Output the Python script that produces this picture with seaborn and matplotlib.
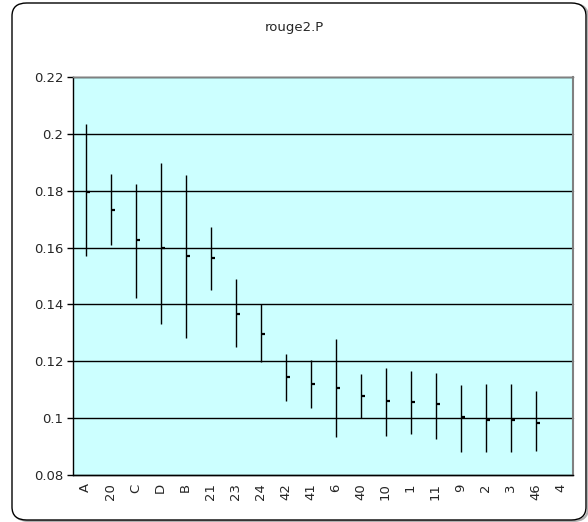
import numpy as np
import pandas as pd
import matplotlib
matplotlib.use("Agg")
import matplotlib.pyplot as plt
import seaborn as sns
from matplotlib.patches import FancyBboxPatch
from matplotlib.ticker import FixedLocator
from matplotlib.path import Path

categories = ["A", "20", "C", "D", "B", "21", "23", "24", "42", "41", "6", "40", "10", "1", "11", "9", "2", "3", "46", "4"]
means = [0.1795, 0.1731, 0.1625, 0.1600, 0.1569, 0.1562, 0.1367, 0.1297, 0.1146, 0.1120, 0.1107, 0.1079, 0.1062, 0.1058, 0.1049, 0.1005, 0.0994, 0.0994, 0.0984, np.nan]
highs = [0.2035, 0.1858, 0.1822, 0.1896, 0.1854, 0.1671, 0.1491, 0.1401, 0.1224, 0.1205, 0.1277, 0.1155, 0.1175, 0.1166, 0.1159, 0.1116, 0.1120, 0.1120, 0.1094, np.nan]
lows = [0.1572, 0.1608, 0.1421, 0.1331, 0.1283, 0.1450, 0.1249, 0.1198, 0.1061, 0.1037, 0.0935, 0.1001, 0.0938, 0.0945, 0.0925, 0.0880, 0.0882, 0.0882, 0.0884, np.nan]
y_ticks = [0.08, 0.10, 0.12, 0.14, 0.16, 0.18, 0.20, 0.22]
y_tick_labels = ["0.08", "0.1", "0.12", "0.14", "0.16", "0.18", "0.2", "0.22"]
title = "rouge2.P"

sns.set_style("white")
plt.rcParams['font.family'] = ['DejaVu Sans']

df = pd.DataFrame({"cat": categories, "mean": means, "high": highs, "low": lows})
df["x"] = np.arange(len(categories))

fig = plt.figure(figsize=(5.88, 5.22), dpi=100)
ax = fig.add_axes([73/588, 1 - 475/522, 500/588, 398/522])
ax.set_facecolor("#CCFFFF")

# outer rounded frame with light shadow
shadow = FancyBboxPatch((14/588, 1/522), 574/588, 517/522,
                        boxstyle="round,pad=0,rounding_size=0.025",
                        transform=fig.transFigure, facecolor="none",
                        edgecolor="#b0b0b0", linewidth=1.5, zorder=-2)
frame = FancyBboxPatch((12/588, 2/522), 574/588, 517/522,
                       boxstyle="round,pad=0,rounding_size=0.025",
                       transform=fig.transFigure, facecolor="white",
                       edgecolor="black", linewidth=1.0, zorder=-1)
fig.patches.append(shadow)
fig.patches.append(frame)

ax.set_xlim(-0.5, len(categories) - 0.5)
ax.set_ylim(0.08, 0.22)
ax.set_yticks(y_ticks)
ax.set_yticklabels(y_tick_labels)
ax.grid(axis="y", color="black", linewidth=1.0, clip_on=False)
ax.set_axisbelow(True)

d = df.dropna()
ax.vlines(d["x"], d["low"], d["high"], color="black", linewidth=1.0, zorder=3)

tick_marker = Path([(0, 0), (1, 0)], [Path.MOVETO, Path.LINETO])
sns.scatterplot(data=d, x="x", y="mean", marker=tick_marker, s=30,
                color="black", linewidth=1.6, edgecolor="black", ax=ax, zorder=4, legend=False)

ax.set_xticks(df["x"])
ax.set_xticklabels(categories, rotation=90, fontsize=9.5)
ax.tick_params(axis="x", which="major", length=0, pad=6)
ax.xaxis.set_minor_locator(FixedLocator(np.arange(-0.5, len(categories), 1.0)))
ax.tick_params(axis="x", which="minor", length=8, direction="inout", width=1, color="black")
ax.tick_params(axis="y", which="major", length=4, direction="out", width=1, color="black", labelsize=9.5, left=True, pad=3)
ax.set_xlabel("")
ax.set_ylabel("")

for side in ["left", "bottom"]:
    ax.spines[side].set_color("black")
    ax.spines[side].set_linewidth(1.0)
ax.spines["top"].set_color("#808080")
ax.spines["top"].set_linewidth(1.0)
ax.spines["right"].set_color("#808080")
ax.spines["right"].set_linewidth(1.5)

fig.text(0.5, 1 - 27/522, title, ha="center", va="center", fontsize=9.5)

fig.savefig("out.png", dpi=100)
